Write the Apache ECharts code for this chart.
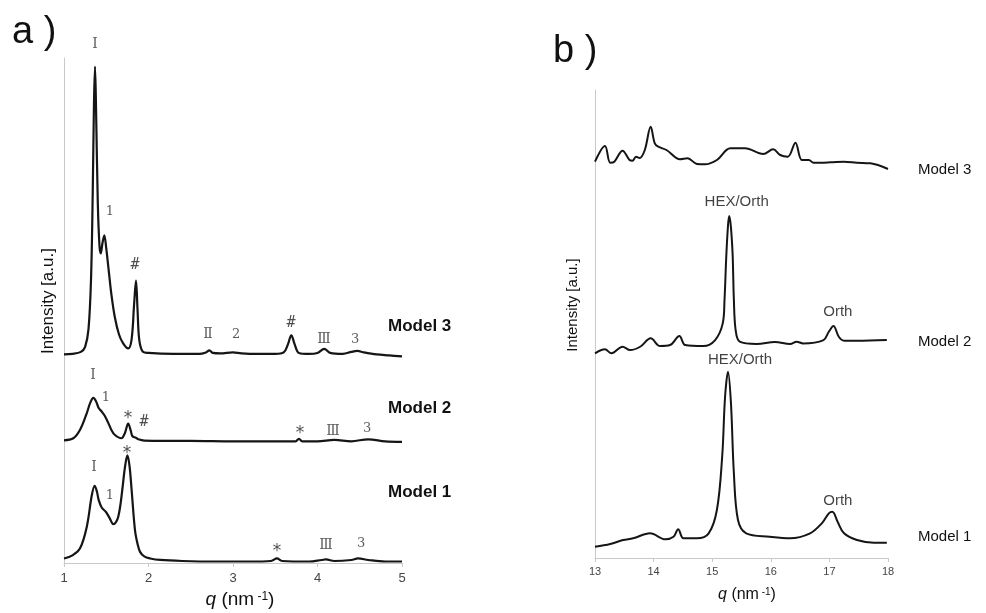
<!DOCTYPE html>
<html>
<head>
<meta charset="utf-8">
<script src="https://cdn.jsdelivr.net/npm/echarts@6/dist/echarts.min.js"></script>
<style>
  html, body { margin: 0; padding: 0; background: #fff; }
  #chart { width: 986px; height: 613px; }
</style>
</head>
<body>
<div id="chart"></div>
<script>
// ---- Panel a: small-angle region, q = 1..5 nm^-1 ----
const qTicksA = [1, 2, 3, 4, 5];

const model3A = [
  [1.00, 0], [1.10, 0.1], [1.20, 0.5], [1.25, 1.5], [1.29, 5], [1.32, 15], [1.34, 32],
  [1.355, 50], [1.367, 57], [1.38, 48], [1.40, 30], [1.42, 21.5], [1.435, 20],
  [1.455, 22], [1.477, 23.6], [1.50, 21], [1.53, 16.5], [1.56, 12], [1.60, 7.5],
  [1.65, 4], [1.70, 2.2], [1.76, 1.2], [1.80, 3], [1.83, 10], [1.852, 14.6],
  [1.87, 9], [1.89, 3], [1.93, 0.6], [2.00, 0.3], [2.30, 0.1], [2.60, 0.1],
  [2.68, 0.4], [2.72, 0.8], [2.76, 0.3], [2.85, 0.2], [3.00, 0.4], [3.10, 0.2],
  [3.30, 0.1], [3.50, 0.1], [3.60, 0.4], [3.65, 2], [3.69, 3.8], [3.73, 2],
  [3.78, 0.3], [3.90, 0.1], [4.00, 0.3], [4.08, 1.1], [4.15, 0.3], [4.30, 0.1],
  [4.40, 0.5], [4.47, 0.7], [4.55, 0.4], [4.70, 0], [4.85, -0.2], [5.00, -0.4]
];

const model2A = [
  [1.00, 0.1], [1.11, 0.5], [1.19, 2.2], [1.27, 5.5], [1.31, 7.5], [1.347, 8.5],
  [1.38, 7.8], [1.41, 6.5], [1.446, 5.8], [1.48, 5.0], [1.525, 3.5], [1.56, 2.2],
  [1.60, 1.2], [1.68, 0.5], [1.72, 1.5], [1.76, 3.4], [1.79, 2.0], [1.81, 0.9],
  [1.85, 0.6], [1.88, 0.3], [1.95, 0.05], [2.20, 0], [2.50, 0], [3.00, -0.1],
  [3.50, -0.1], [3.74, -0.1], [3.78, 0.4], [3.82, -0.1], [4.00, -0.1], [4.20, 0.2],
  [4.40, -0.1], [4.60, 0.3], [4.80, -0.1], [5.00, -0.2]
];

const model1A = [
  [1.00, 0.6], [1.10, 1.2], [1.19, 2.6], [1.27, 6.9], [1.33, 13.2], [1.363, 15],
  [1.39, 13.8], [1.41, 12.2], [1.446, 10.7], [1.497, 9.8], [1.54, 8.6], [1.584, 7.4],
  [1.615, 7.8], [1.643, 8.9], [1.67, 11.5], [1.694, 14.8], [1.72, 18.5], [1.75, 21],
  [1.775, 19], [1.80, 14.2], [1.84, 6.2], [1.87, 3.5], [1.90, 1.9], [1.95, 1.0],
  [2.02, 0.6], [2.14, 0.3], [2.40, 0.1], [2.80, 0], [3.20, 0], [3.45, 0.1],
  [3.52, 0.6], [3.58, 0.1], [3.90, 0], [4.05, 0.3], [4.10, 0.4], [4.20, 0.1],
  [4.40, 0.3], [4.48, 0.6], [4.60, 0.3], [4.80, 0], [5.00, 0]
];

// peak assignments: [q, level, text]
const peakLabelsA = [
  [1.367, 102.8, 'Ⅰ'], [1.544, 69.5, '1'], [1.840, 59.0, '#'], [2.704, 45.3, 'Ⅱ'],
  [3.036, 45.3, '2'], [3.686, 47.5, '#'], [4.077, 44.2, 'Ⅲ'], [4.444, 44.2, '3'],
  [1.343, 37.2, 'Ⅰ'], [1.497, 32.7, '1'], [1.757, 28.6, '*'], [1.947, 27.9, '#'],
  [3.793, 25.6, '*'], [4.183, 26.1, 'Ⅲ'], [4.586, 26.7, '3'],
  [1.355, 19.0, 'Ⅰ'], [1.544, 13.3, '1'], [1.746, 21.7, '*'], [3.521, 2.3, '*'],
  [4.101, 3.4, 'Ⅲ'], [4.515, 3.8, '3']
];

// ---- Panel b: wide-angle region, q = 13..18 nm^-1 ----
const qTicksB = [13, 14, 15, 16, 17, 18];

const model3B = [
  [13.00, 0.28], [13.17, 3.63], [13.26, 0.06], [13.33, 0.28], [13.47, 2.63],
  [13.59, 0.64], [13.64, 0.49], [13.70, 1.35], [13.76, 1.07], [13.85, 2.78],
  [13.95, 7.76], [14.02, 4.21], [14.08, 3.48], [14.22, 2.78], [14.45, 0.79],
  [14.58, 1.0], [14.74, -0.21], [14.88, -0.28], [15.08, 0.64], [15.31, 3.14],
  [15.56, 3.14], [15.87, 1.92], [16.04, 2.93], [16.16, 1.71], [16.29, 1.35],
  [16.42, 4.34], [16.53, 0.64], [16.65, 0.64], [16.73, 0.06], [17.02, 0.15],
  [17.25, 0.28], [17.47, 0.06], [17.70, -0.06], [18.00, -1.28]
];

const model2B = [
  [13.00, -1.77], [13.17, -0.92], [13.28, -1.77], [13.47, -0.36], [13.60, -1.07],
  [13.77, -0.36], [13.95, 1.43], [14.11, -0.21], [14.28, 0], [14.44, 1.92],
  [14.54, 0], [14.85, -0.21], [15.05, 1.07], [15.18, 4.64], [15.21, 9.6],
  [15.24, 18.9], [15.27, 25.6], [15.29, 27.6], [15.31, 26.3], [15.33, 23.5],
  [15.35, 18.9], [15.37, 9.6], [15.40, 3.2], [15.47, 0.71], [15.76, 0.21],
  [16.07, 0.64], [16.33, 0.21], [16.44, 0.71], [16.55, 0.36], [16.90, 1.07],
  [16.99, 2.84], [17.07, 4.06], [17.16, 1.77], [17.25, 0.92], [17.47, 0.92],
  [17.98, 1.07]
];

const model1B = [
  [13.00, -0.79], [13.26, -0.21], [13.48, 0.64], [13.65, 1.0], [13.94, 2.07],
  [14.20, 0.79], [14.34, 1.35], [14.42, 2.93], [14.51, 1.0], [14.74, 1.0],
  [14.94, 2.07], [15.08, 7.05], [15.17, 18.4], [15.22, 31.3], [15.27, 36.6],
  [15.32, 29.9], [15.37, 14.9], [15.44, 4.91], [15.58, 2.07], [15.98, 1.35],
  [16.33, 1.0], [16.67, 2.07], [16.87, 4.21], [16.99, 6.35], [17.05, 6.69],
  [17.14, 4.55], [17.25, 2.07], [17.47, 0.64], [17.76, 0.06], [17.98, 0.06]
];

const peakLabelsB = [
  [15.417, 76.1, 'HEX/Orth'], [17.144, 52.6, 'Orth'],
  [15.474, 42.3, 'HEX/Orth'], [17.144, 12.2, 'Orth']
];

const modelNames = ['Model 3', 'Model 2', 'Model 1'];

// vertical stacking of the traces (axis units)
const stackA = [41.3, 24.2, 0.3];
const stackB = [84.4, 45.5, 3.2];

function lift(points, base) {
  return points.map(p => [p[0], p[1] + base]);
}

const axisGray = '#c9c9c9';
const inkColor = '#151515';

function traceSeries(points, base, axisIdx, width) {
  return {
    type: 'line',
    xAxisIndex: axisIdx,
    yAxisIndex: axisIdx,
    data: lift(points, base),
    showSymbol: false,
    smooth: 0.35,
    lineStyle: { color: inkColor, width: width },
    silent: true,
    animation: false
  };
}

function labelStyle(t) {
  if (/[ⅠⅡⅢ]/.test(t)) return { fontFamily: 'DejaVu Serif', fontSize: 14, color: '#333' };
  if (t === '*') return { fontFamily: 'DejaVu Sans', fontSize: 17, color: '#222' };
  if (t === '#') return { fontFamily: 'DejaVu Sans Mono', fontSize: 15, color: '#222' };
  if (t.length === 1) return { fontFamily: 'DejaVu Serif', fontSize: 13, color: '#333' };
  return { fontFamily: 'Liberation Sans', fontSize: 15, color: '#111' };
}

function annotationSeries(list, axisIdx) {
  return {
    type: 'scatter',
    xAxisIndex: axisIdx,
    yAxisIndex: axisIdx,
    symbolSize: 0,
    clip: false,
    silent: true,
    animation: false,
    data: list.map(a => ({
      value: [a[0], a[1]],
      label: Object.assign({
        show: true,
        position: 'inside',
        formatter: a[2]
      }, labelStyle(a[2]))
    }))
  };
}

const chart = echarts.init(document.getElementById('chart'), null, { renderer: 'canvas' });

const xAxisCommon = {
  type: 'value',
  interval: 1,
  axisLine: { lineStyle: { color: axisGray, width: 1 } },
  axisTick: { show: true, length: 4, lineStyle: { color: axisGray } },
  splitLine: { show: false }
};
const yAxisCommon = {
  type: 'value',
  min: 0,
  max: 100,
  axisLine: { show: true, lineStyle: { color: axisGray, width: 1 } },
  axisTick: { show: false },
  axisLabel: { show: false },
  splitLine: { show: false }
};

const qTitle = (x, y, size, sup) => ({
  type: 'text',
  x: x, y: y,
  style: {
    text: '{i|q} (nm{s| -1})',
    align: 'center',
    verticalAlign: 'middle',
    fill: '#111',
    font: size + 'px "Liberation Sans"',
    rich: {
      i: { fontStyle: 'italic', fontSize: size, fontFamily: 'Liberation Sans', fill: '#111' },
      s: { fontSize: sup, fontFamily: 'Liberation Sans', verticalAlign: 'top', lineHeight: size, fill: '#111' }
    }
  }
});

const textAt = (x, y, text, font, extra) => Object.assign({
  type: 'text',
  x: x, y: y,
  style: {
    text: text,
    fill: '#111',
    font: font,
    align: 'left',
    verticalAlign: 'middle'
  }
}, extra || {});

chart.setOption({
  animation: false,
  grid: [
    { left: 64, right: 584, top: 58, bottom: 50 },
    { left: 595, right: 98, top: 90, bottom: 55 }
  ],
  xAxis: [
    Object.assign({}, xAxisCommon, {
      gridIndex: 0, min: qTicksA[0], max: qTicksA[qTicksA.length - 1],
      axisLabel: { color: '#444', fontFamily: 'Liberation Sans', fontSize: 13, margin: 9 }
    }),
    Object.assign({}, xAxisCommon, {
      gridIndex: 1, min: qTicksB[0], max: qTicksB[qTicksB.length - 1],
      axisLabel: { color: '#444', fontFamily: 'Liberation Sans', fontSize: 11, margin: 8 }
    })
  ],
  yAxis: [
    Object.assign({}, yAxisCommon, { gridIndex: 0 }),
    Object.assign({}, yAxisCommon, { gridIndex: 1 })
  ],
  series: [
    traceSeries(model3A, stackA[0], 0, 2.2),
    traceSeries(model2A, stackA[1], 0, 2.2),
    traceSeries(model1A, stackA[2], 0, 2.2),
    traceSeries(model3B, stackB[0], 1, 2),
    traceSeries(model2B, stackB[1], 1, 2),
    traceSeries(model1B, stackB[2], 1, 2),
    annotationSeries(peakLabelsA, 0),
    annotationSeries(peakLabelsB, 1)
  ],
  graphic: [
    textAt(12, 33, 'a )', '38px "Liberation Sans"'),
    textAt(553, 52, 'b )', '38px "Liberation Sans"'),
    {
      type: 'text', x: 48, y: 301, rotation: Math.PI / 2,
      style: { text: 'Intensity [a.u.]', fill: '#111', font: '17px "Liberation Sans"', align: 'center', verticalAlign: 'middle' }
    },
    {
      type: 'text', x: 573, y: 305, rotation: Math.PI / 2,
      style: { text: 'Intensity [a.u.]', fill: '#111', font: '15px "Liberation Sans"', align: 'center', verticalAlign: 'middle' }
    },
    textAt(388, 326, modelNames[0], 'bold 17px "Liberation Sans"'),
    textAt(388, 408, modelNames[1], 'bold 17px "Liberation Sans"'),
    textAt(388, 492, modelNames[2], 'bold 17px "Liberation Sans"'),
    textAt(918, 170, modelNames[0], '15px "Liberation Sans"'),
    textAt(918, 342, modelNames[1], '15px "Liberation Sans"'),
    textAt(918, 537, modelNames[2], '15px "Liberation Sans"'),
    qTitle(240, 600, 19, 12),
    qTitle(747, 595, 16, 10)
  ]
});
</script>
</body>
</html>
